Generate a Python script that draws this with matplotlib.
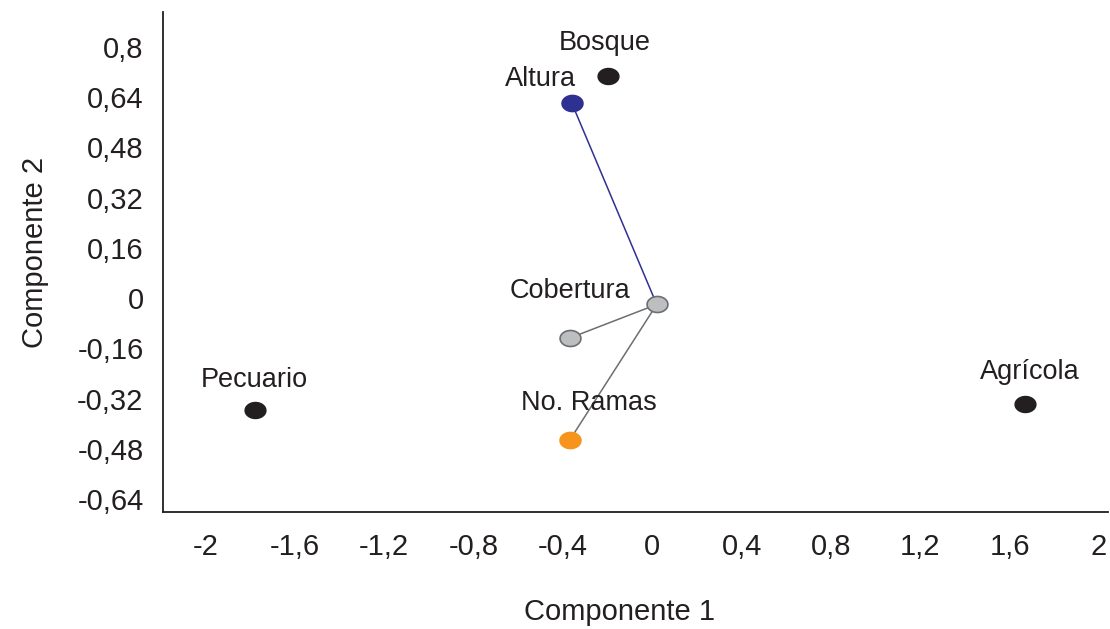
import matplotlib
matplotlib.use("Agg")
import matplotlib.pyplot as plt
import numpy as np
from matplotlib.path import Path

# ---- data ----
sites = ["Bosque", "Pecuario", "Agrícola"]
site_x = [-0.20, -1.78, 1.67]
site_y = [0.705, -0.355, -0.338]

origin_x, origin_y = 0.02, -0.02
vars_names = ["Altura", "Cobertura", "No. Ramas"]
var_x = [-0.36, -0.37, -0.37]
var_y = [0.62, -0.127, -0.452]

xticks = [-2, -1.6, -1.2, -0.8, -0.4, 0, 0.4, 0.8, 1.2, 1.6, 2]
xtick_labels = ["-2", "-1,6", "-1,2", "-0,8", "-0,4", "0", "0,4", "0,8", "1,2", "1,6", "2"]
yticks = [0.8, 0.64, 0.48, 0.32, 0.16, 0, -0.16, -0.32, -0.48, -0.64]
ytick_labels = ["0,8", "0,64", "0,48", "0,32", "0,16", "0", "-0,16", "-0,32", "-0,48", "-0,64"]

# ---- style ----
plt.rcParams['font.family'] = ['Liberation Sans', 'DejaVu Sans']
dark = "#231f20"
var_face = ["#2e3192", "#bcbec0", "#f7941d"]
var_edge = ["#2e3192", "#6d6e71", "#f7941d"]
line_col = ["#2e3192", "#6d6e71", "#6d6e71"]

t = np.linspace(0, 2 * np.pi, 60)
ell = Path(np.column_stack([1.3 * np.cos(t), np.sin(t)]), closed=True)

fig = plt.figure(figsize=(11.1, 6.29), dpi=100)
ax = fig.add_axes([163 / 1110, 117 / 629, 945 / 1110, 500 / 629])
ax.set_xlim(-2.19, 2.04)
ax.set_ylim(-0.68, 0.91)

for s in ["top", "right"]:
    ax.spines[s].set_visible(False)
for s in ["left", "bottom"]:
    ax.spines[s].set_color(dark)
    ax.spines[s].set_linewidth(1.3)

ax.set_xticks(xticks)
ax.set_xticklabels(xtick_labels)
ax.set_yticks(yticks)
ax.set_yticklabels(ytick_labels)
ax.tick_params(axis='both', length=0, labelsize=21, colors=dark)
ax.tick_params(axis='x', pad=15)
ax.tick_params(axis='y', pad=14)

# lines from origin
for i in range(len(vars_names)):
    ax.plot([origin_x, var_x[i]], [origin_y, var_y[i]], color=line_col[i], lw=1.1, zorder=2)

# origin marker
ax.plot([origin_x], [origin_y], marker=ell, ms=15, mfc="#bcbec0", mec="#6d6e71", mew=1.2, ls="none", zorder=3)

for i in range(len(vars_names)):
    ax.plot([var_x[i]], [var_y[i]], marker=ell, ms=15, mfc=var_face[i], mec=var_edge[i], mew=1.2, ls="none", zorder=3)

ax.plot(site_x, site_y, marker=ell, ls="none", ms=15, mfc=dark, mec=dark, zorder=3)

site_off = {"Bosque": (-3, 33), "Pecuario": (0, 30), "Agrícola": (4, 32)}
var_off = {"Altura": (-31, 24), "Cobertura": (0, 47), "No. Ramas": (19, 37)}

for n, x, y in zip(sites, site_x, site_y):
    ax.annotate(n, (x, y), xytext=site_off[n], textcoords="offset pixels",
                ha="center", va="center", fontsize=19.5, color=dark)
for n, x, y in zip(vars_names, var_x, var_y):
    ax.annotate(n, (x, y), xytext=var_off[n], textcoords="offset pixels",
                ha="center", va="center", fontsize=19.5, color=dark)

fig.text(620 / 1110, 1 - 612 / 629, "Componente 1", ha="center", va="center", fontsize=21, color=dark)
fig.text(35 / 1110, 1 - 252 / 629, "Componente 2", ha="center", va="center", rotation=90, fontsize=21, color=dark)

fig.savefig("out.png", dpi=100)
